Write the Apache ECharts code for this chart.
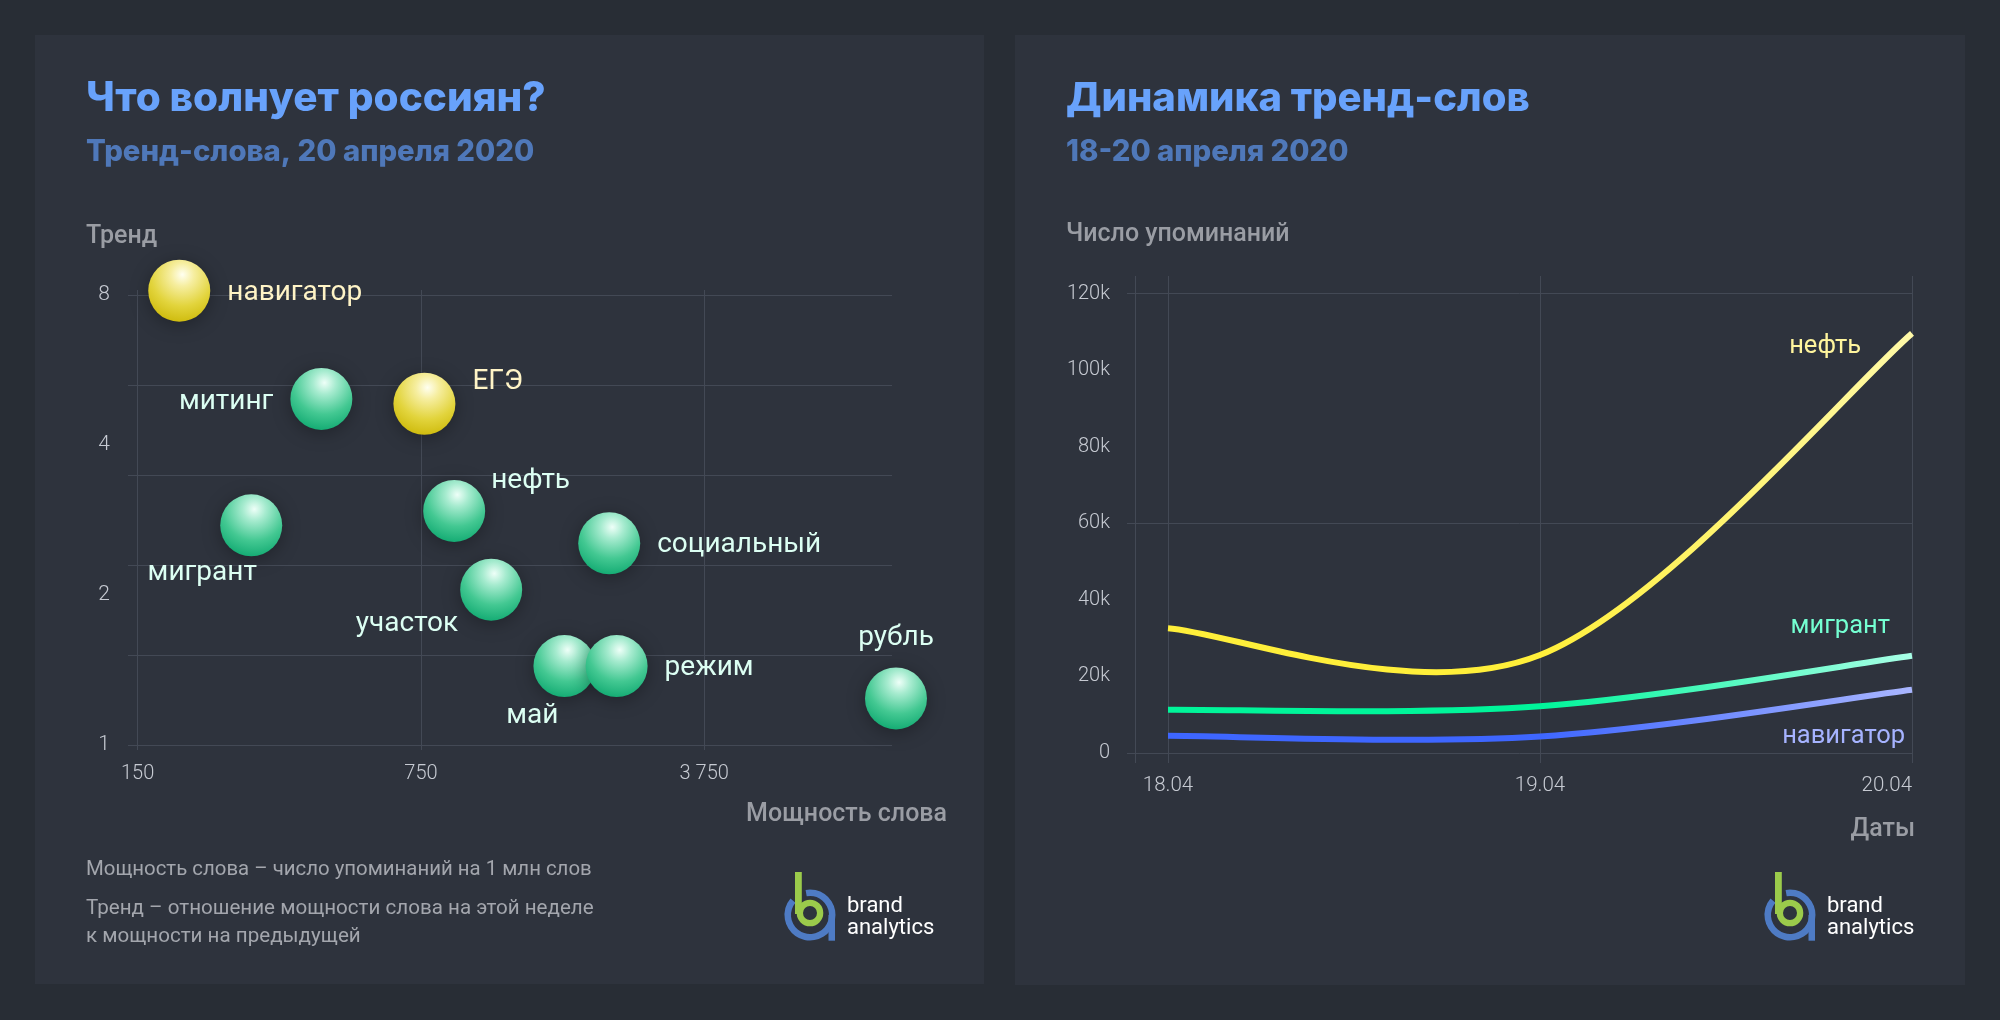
<!DOCTYPE html>
<html><head><meta charset="utf-8">
<script src="https://cdn.jsdelivr.net/npm/echarts@6/dist/echarts.min.js"></script>
<style>
html,body{margin:0;padding:0;background:#282d35;width:2000px;height:1020px;overflow:hidden}
.panel{position:absolute;background:#2e333d}
#chart{position:absolute;left:0;top:0;width:2000px;height:1020px}
</style></head><body>
<div class="panel" style="left:35px;top:35px;width:949px;height:949px"></div>
<div class="panel" style="left:1015px;top:35px;width:950px;height:950px"></div>
<div id="chart"></div>
<script>
// ---------- Left chart data: trend words ----------
const words      = ['навигатор','ЕГЭ','митинг','нефть','мигрант','социальный','участок','май','режим','рубль'];
const wordPower  = [190, 765, 426, 906, 286, 2186, 1118, 1695, 2280, 11150];
const wordTrend  = [8.16, 4.84, 4.95, 2.95, 2.76, 2.54, 2.05, 1.44, 1.44, 1.24];
const wordGroup  = ['new','new','old','old','old','old','old','old','old','old'];
const powerTicks      = [150, 750, 3750];
const powerTickLabels = ['150', '750', '3 750'];
const trendTicks      = [1, 2, 4, 8];
const trendGridValues = [1, 1.516, 2.297, 3.482, 5.278, 8];

// ---------- Right chart data: mentions ----------
const dates        = ['18.04', '19.04', '20.04'];
const neftValues   = [32600, 25600, 109600];
const migrantValues= [11300, 12200, 25400];
const navValues    = [4500, 4300, 16500];
const mentionTicks = [0, 20000, 40000, 60000, 80000, 100000, 120000];
const mentionGrid  = [0, 60000, 120000];
const dateGridValues = [-0.0887, 0, 1, 2];

// ---------- styles (kept apart from data) ----------
const labelPlacement = {
  'навигатор': {align:'left',   offset:[48, 2]},
  'ЕГЭ':       {align:'left',   offset:[48, -22]},
  'митинг':    {align:'right',  offset:[-48, 3]},
  'нефть':     {align:'left',   offset:[37, -30]},
  'мигрант':   {align:'center', offset:[-49, 48]},
  'социальный':{align:'left',   offset:[48, 2]},
  'участок':   {align:'right',  offset:[-33, 34]},
  'май':       {align:'center', offset:[-32, 50]},
  'режим':     {align:'left',   offset:[48, 2]},
  'рубль':     {align:'center', offset:[0, -60]}
};
const bubbleStyle = {
  new: {grad:['#fffff0','#f6eea0','#e2d43c','#c9b400'], label:'#fff4c6'},
  old: {grad:['#eefff8','#a6ebcf','#43c892','#06a36a'], label:'#dcfff3'}
};
const GRID = '#434955';
const TICK_TXT = '#c6cad2';
const GRAY = '#9a9da4';
const FONT = 'Roboto, "Noto Sans", sans-serif';
const TFONT = 'Inter, "Noto Sans", sans-serif';

function bubbleSeries(group) {
  const st = bubbleStyle[group];
  const data = [];
  words.forEach((w, i) => {
    if (wordGroup[i] !== group) return;
    const p = labelPlacement[w];
    data.push({
      name: w, value: [wordPower[i], wordTrend[i]],
      label: {position: 'inside', align: p.align, verticalAlign: 'middle', offset: p.offset}
    });
  });
  return {
    type: 'scatter', xAxisIndex: 0, yAxisIndex: 0, clip: false,
    symbol: 'circle', symbolSize: 62, z: 5,
    itemStyle: {
      opacity: 1,
      color: {type:'radial', x:0.55, y:0.24, r:0.85, colorStops:[
        {offset:0, color:st.grad[0]}, {offset:0.22, color:st.grad[1]},
        {offset:0.6, color:st.grad[2]}, {offset:1, color:st.grad[3]}]},
      shadowBlur: 18, shadowColor: 'rgba(0,0,0,0.3)', shadowOffsetY: 3
    },
    label: {show: true, formatter: '{b}', color: st.label, fontSize: 28, fontFamily: FONT},
    emphasis: {disabled: true},
    data: data
  };
}

// Catmull-Rom spline drawn through the axis scales (api.coord)
function splineSeries(name, values, c0, c1) {
  return {
    type: 'custom', name: name, coordinateSystem: 'cartesian2d',
    xAxisIndex: 1, yAxisIndex: 1, z: 4, clip: false,
    encode: {x: 0, y: 1},
    data: values.map((v, i) => [i, v]),
    renderItem: function (params, api) {
      if (params.dataIndexInside !== 0) return null;
      const n = params.dataInsideLength;
      const pts = [];
      for (let i = 0; i < n; i++) pts.push(api.coord([api.value(0, i), api.value(1, i)]));
      let d = 'M' + pts[0][0] + ' ' + pts[0][1];
      for (let i = 0; i < n - 1; i++) {
        const p0 = pts[Math.max(i - 1, 0)], p1 = pts[i], p2 = pts[i + 1], p3 = pts[Math.min(i + 2, n - 1)];
        const a = [p1[0] + (p2[0] - p0[0]) / 6, p1[1] + (p2[1] - p0[1]) / 6];
        const b = [p2[0] - (p3[0] - p1[0]) / 6, p2[1] - (p3[1] - p1[1]) / 6];
        d += ' C' + a[0] + ' ' + a[1] + ' ' + b[0] + ' ' + b[1] + ' ' + p2[0] + ' ' + p2[1];
      }
      return {
        type: 'path', shape: {pathData: d},
        style: {fill: null, lineWidth: 6,
          stroke: {type:'linear', global:true, x:pts[0][0], y:0, x2:pts[n - 1][0], y2:0,
            colorStops:[{offset:0, color:c0}, {offset:0.5, color:c0}, {offset:1, color:c1}]}}
      };
    }
  };
}

function text(t, x, y, size, color, opts) {
  opts = opts || {};
  return {type:'text', z: 10, style:{text:t, x:x, y:y, fill:color,
    font: (opts.weight || 'normal') + ' ' + size + 'px ' + (opts.family || FONT),
    align: opts.align || 'left', verticalAlign: 'middle'}};
}

function logo(ox) {
  const G = '#9bcb4b', B = '#4e7bc4';
  return [
    {type:'sector', z:10, shape:{cx:810+ox, cy:915, r:25.5, r0:19,
      startAngle:-100*Math.PI/180, endAngle:220*Math.PI/180, clockwise:true}, style:{fill:B}},
    {type:'rect', z:10, shape:{x:828.5+ox, y:915, width:6.5, height:25.7}, style:{fill:B}},
    {type:'ring', z:11, shape:{cx:810+ox, cy:913, r:13.3, r0:7}, style:{fill:G}},
    {type:'rect', z:11, shape:{x:795+ox, y:872, width:6.8, height:42}, style:{fill:G}},
    text('brand', 847+ox, 906, 22, '#ffffff'),
    text('analytics', 847+ox, 928, 22, '#ffffff')
  ];
}

const chart = echarts.init(document.getElementById('chart'), null, {renderer:'canvas'});
chart.setOption({
  animation: false,
  backgroundColor: 'transparent',
  grid: [
    {left:128, right:1108, top:290, bottom:270},
    {left:1127, right:88, top:276, bottom:257}
  ],
  xAxis: [
    {type:'log', logBase:5, gridIndex:0, min:142, max:10900,
     axisLine:{show:false}, axisTick:{show:false, customValues: powerTicks},
     axisLabel:{customValues: powerTicks, color:TICK_TXT, fontSize:20, fontFamily:FONT, fontWeight:300, margin:14,
       formatter: v => { let k = 0, d = Infinity; powerTicks.forEach((t, i) => { const e = Math.abs(Math.log(t) - Math.log(v)); if (e < d) { d = e; k = i; } }); return powerTickLabels[k]; }},
     splitLine:{show:true, lineStyle:{color:GRID, width:1}}, minorSplitLine:{show:false}},
    {type:'value', gridIndex:1, min:-0.1102, max:2,
     axisLine:{show:false}, axisTick:{show:false, customValues: dateGridValues},
     axisLabel:{customValues:[0,1,2], color:TICK_TXT, fontSize:20.5, fontFamily:FONT, fontWeight:300, margin:12,
       alignMaxLabel:'right', formatter: v => dates[Math.round(v)]},
     splitLine:{show:true, lineStyle:{color:GRID, width:1}}}
  ],
  yAxis: [
    {type:'log', logBase:2, gridIndex:0, min:0.977, max:8.187,
     axisLine:{show:false}, axisTick:{show:false, customValues: trendGridValues},
     axisLabel:{customValues: trendTicks, color:TICK_TXT, fontSize:21, fontFamily:FONT, fontWeight:300, margin:18,
       formatter: v => String(Math.round(v))},
     splitLine:{show:true, lineStyle:{color:GRID, width:1}}, minorSplitLine:{show:false}},
    {type:'value', gridIndex:1, min:-2609, max:124590,
     axisLine:{show:false}, axisTick:{show:false, customValues: mentionGrid},
     axisLabel:{customValues: mentionTicks, color:TICK_TXT, fontSize:20, fontFamily:FONT, fontWeight:300, margin:17,
       formatter: v => v === 0 ? '0' : Math.round(v / 1000) + 'k'},
     splitLine:{show:true, lineStyle:{color:GRID, width:1}}}
  ],
  series: [
    bubbleSeries('old'),
    bubbleSeries('new'),
    splineSeries('навигатор', navValues, '#3e66ff', '#a9b6ff'),
    splineSeries('мигрант', migrantValues, '#00f59a', '#a8ffe6'),
    splineSeries('нефть', neftValues, '#ffef3a', '#fff9a8')
  ],
  graphic: [].concat(
    [
      text('Что волнует россиян?', 86, 99, 40.5, '#68a2fb', {weight:800, family:TFONT}),
      text('Тренд-слова, 20 апреля 2020', 86, 152, 29.3, '#4f78b9', {weight:800, family:TFONT}),
      text('Тренд', 86, 237, 25, GRAY, {weight:500}),
      text('Мощность слова', 947, 815, 25, GRAY, {align:'right', weight:500}),
      text('Мощность слова – число упоминаний на 1 млн слов', 86, 870, 20.4, '#a3a6ad'),
      text('Тренд – отношение мощности слова на этой неделе', 86, 909, 20.6, '#a3a6ad'),
      text('к мощности на предыдущей', 86, 937, 20.6, '#a3a6ad'),
      text('Динамика тренд-слов', 1066, 99, 40, '#68a2fb', {weight:800, family:TFONT}),
      text('18-20 апреля 2020', 1066, 152, 29.3, '#4f78b9', {weight:800, family:TFONT}),
      text('Число упоминаний', 1066, 235, 25, GRAY, {weight:500}),
      text('Даты', 1915, 830, 25, GRAY, {align:'right', weight:500}),
      text('нефть', 1861, 347, 25.5, '#fff59d', {align:'right'}),
      text('мигрант', 1890, 627, 25.5, '#74ffd2', {align:'right'}),
      text('навигатор', 1905, 737, 25.5, '#a6b3ff', {align:'right'})
    ],
    logo(0), logo(980)
  )
});
</script>
</body></html>
